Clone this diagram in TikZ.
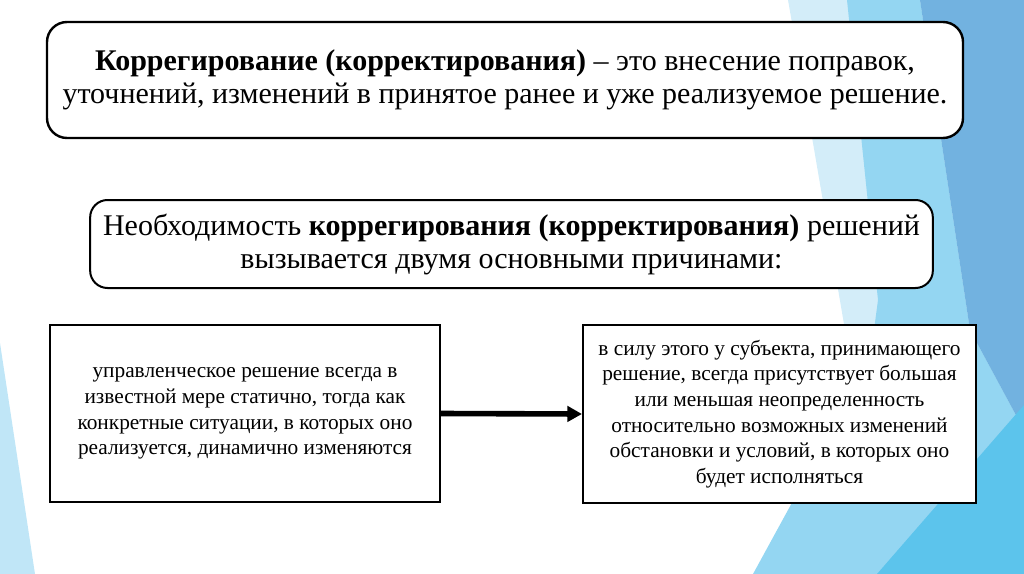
\documentclass[tikz,border=0pt]{standalone}
\usepackage{fontspec}
\setmainfont{Liberation Serif}
\usetikzlibrary{arrows.meta,positioning}
\definecolor{facetpale}{RGB}{211,237,249}
\definecolor{facetmid}{RGB}{148,214,242}
\definecolor{facetsteel}{RGB}{114,178,224}
\definecolor{facetsky}{RGB}{92,196,236}
\definecolor{facetleft}{RGB}{192,230,247}

\begin{document}
\begin{tikzpicture}[
    x=0.75pt, y=-0.75pt,
    >=Stealth,
    defbox/.style={draw=black, line width=1.8pt, fill=white, rounded corners=15pt, align=center, minimum width=687pt, minimum height=87pt, font=\fontsize{22.5}{24.75}\selectfont, inner sep=0pt},
    needbox/.style={draw=black, line width=1.5pt, fill=white, rounded corners=13pt, align=center, minimum width=632pt, minimum height=66pt, font=\fontsize{22.5}{24.75}\selectfont, inner sep=0pt},
    causebox/.style={draw=black, line width=1.3pt, fill=white, align=center, minimum width=292pt, minimum height=133pt, font=\fontsize{16}{19.3}\selectfont, inner sep=0pt},
    arr/.style={-{Triangle[length=11pt, width=11.5pt]}, line width=4.2pt, draw=black}
  ]

  \useasboundingbox (0,0) rectangle (1024,574);

  % --- BACKGROUND FACETS ---
  \fill[facetleft] (0,343) -- (35,574) -- (0,574) -- cycle;
  \fill[facetpale] (788,0) -- (1024,0) -- (1024,574) -- (760,574) -- (815,490) -- (845,330) -- (813,143) -- cycle;
  \fill[facetmid] (847,0) -- (920,0) -- (970,330) -- (1024,430) -- (1024,574) -- (753,574) -- (870,360) -- (878,300) -- cycle;
  \fill[facetsteel] (920,0) -- (1024,0) -- (1024,430) -- (970,330) -- cycle;
  \fill[facetsky] (877,574) -- (1024,574) -- (1024,405) -- cycle;

  % --- DEFINITION ---
  \node[defbox] (definition) at (505,80) {\textbf{Коррегирование (корректирования)} – это внесение поправок,\\уточнений, изменений в принятое ранее и уже реализуемое решение.};

  % --- NEED ---
  \node[needbox] (need) at (511.5,244) {Необходимость \textbf{коррегирования (корректирования)} решений\\вызывается двумя основными причинами:};

  % --- CAUSES ---
  \node[causebox] (static) at (245,413.5) {управленческое решение всегда в\\известной мере статично, тогда как\\конкретные ситуации, в которых оно\\реализуется, динамично изменяются};
  \node[causebox, minimum width=295pt, minimum height=133.5pt] (uncertain) at (779.5,414) {в силу этого у субъекта, принимающего\\решение, всегда присутствует большая\\или меньшая неопределенность\\относительно возможных изменений\\обстановки и условий, в которых оно\\будет исполняться};

  % --- CONNECTIONS ---
  \draw[arr] (static.east) -- (uncertain.west);

\end{tikzpicture}
\end{document}
